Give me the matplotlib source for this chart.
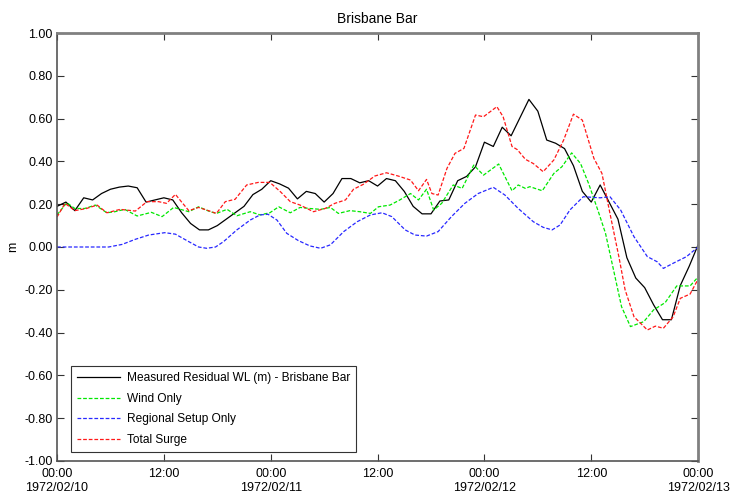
import numpy as np
import pandas as pd
import matplotlib
matplotlib.use("Agg")
import matplotlib.pyplot as plt
from matplotlib.ticker import FuncFormatter, MultipleLocator
import matplotlib.dates as mdates

plt.rcParams['font.family'] = ['Liberation Sans', 'DejaVu Sans']

start = pd.Timestamp('1972-02-10 00:00')

# Measured residual water level, hourly (m)
meas_hours = list(range(0, 73))
meas_vals = [0.19, 0.21, 0.17, 0.23, 0.22, 0.25, 0.27, 0.28, 0.285, 0.277,
             0.21, 0.22, 0.23, 0.22, 0.16, 0.11, 0.08, 0.08, 0.10, 0.13,
             0.16, 0.19, 0.245, 0.27, 0.31, 0.295, 0.275, 0.225, 0.26, 0.25,
             0.21, 0.25, 0.32, 0.32, 0.30, 0.31, 0.285, 0.32, 0.31, 0.26,
             0.19, 0.155, 0.155, 0.215, 0.22, 0.31, 0.33, 0.375, 0.49, 0.47,
             0.56, 0.52, 0.605, 0.69, 0.635, 0.50, 0.485, 0.46, 0.38, 0.26,
             0.21, 0.29, 0.21, 0.13, -0.05, -0.145, -0.19, -0.27, -0.34, -0.34,
             -0.18, -0.09, 0.01]

# Wind only
wind_hours = [0, 1.1, 2, 3.1, 4.3, 5.6, 6.5, 7.6, 9, 10.6, 11.8, 13.1, 14.8, 15.9,
              17.2, 17.9, 19.1, 20.2, 21.7, 22.8, 23.9, 24.9, 26.2, 27.3, 28.4,
              29.6, 30.7, 31.6, 32.9, 34, 35.2, 36.1, 37.4, 38.5, 39.7, 40.6,
              41.5, 42.3, 43.2, 44.5, 45.5, 46.8, 47.9, 49.6, 51.1, 51.8, 52.6,
              53.1, 54.5, 55.8, 56.7, 57.8, 58.8, 59.7, 60.8, 61.6, 62.5, 63.4,
              64.4, 65.9, 67, 68.3, 69.6, 71.1, 72]
wind_vals = [0.15, 0.207, 0.18, 0.18, 0.196, 0.16, 0.165, 0.176, 0.145, 0.162,
             0.142, 0.185, 0.165, 0.188, 0.165, 0.157, 0.176, 0.146, 0.165, 0.15,
             0.16, 0.188, 0.16, 0.185, 0.18, 0.176, 0.185, 0.157, 0.17, 0.165,
             0.157, 0.188, 0.196, 0.22, 0.25, 0.22, 0.27, 0.173, 0.204, 0.29,
             0.274, 0.383, 0.336, 0.388, 0.263, 0.29, 0.274, 0.282, 0.263, 0.344,
             0.375, 0.44, 0.39, 0.297, 0.165, 0.064, -0.107, -0.279, -0.372, -0.349,
             -0.294, -0.26, -0.182, -0.182, -0.14]

# Regional setup only
setup_hours = [0, 3, 5.8, 7.3, 8.8, 10.3, 12.1, 13.3, 14.8, 15.9, 16.8, 17.8,
               18.7, 20.2, 21.7, 22.8, 23.7, 24.7, 25.8, 27.1, 28.4, 29.6, 30.7,
               32.2, 33.7, 35.2, 36.5, 37.6, 39.1, 40.2, 41.5, 42.8, 44.3, 45.8,
               47.3, 49, 50.3, 51.8, 53.5, 54.6, 55.6, 56.5, 57.6, 59.1, 61, 62.1,
               63.3, 64.8, 66.3, 67.4, 68.1, 69.2, 70.7, 72]
setup_vals = [0.0, 0.0, 0.0, 0.012, 0.036, 0.056, 0.067, 0.06, 0.025, 0.0,
              -0.006, 0.0, 0.025, 0.08, 0.126, 0.15, 0.153, 0.126, 0.064, 0.03,
              0.005, -0.006, 0.01, 0.072, 0.118, 0.15, 0.16, 0.142, 0.08, 0.056,
              0.051, 0.072, 0.142, 0.204, 0.25, 0.279, 0.243, 0.18, 0.118, 0.092,
              0.08, 0.103, 0.173, 0.235, 0.23, 0.235, 0.173, 0.048, -0.045, -0.069,
              -0.1, -0.076, -0.045, 0.0]

# Total surge
total_hours = [0, 0.9, 2, 3.3, 4.5, 5.6, 7.1, 8.8, 10.1, 11.4, 12.3, 13.3, 14,
               14.8, 15.9, 17, 17.9, 18.9, 20, 21.3, 22.6, 23.9, 25.1, 26.2, 27.3,
               28.8, 30.1, 31.2, 32.4, 33.3, 34.4, 35.7, 37, 38.3, 39.7, 40.6,
               41.5, 42.1, 42.8, 43.8, 44.7, 45.7, 47, 47.9, 49.4, 50.1, 51.1,
               51.7, 52.6, 53.5, 54.6, 55.8, 56.9, 58, 59, 60.3, 61.2, 62.1, 63.1,
               63.8, 64.8, 66.3, 67.2, 68.1, 69.2, 70, 71.1, 72]
total_vals = [0.14, 0.204, 0.17, 0.18, 0.196, 0.16, 0.176, 0.168, 0.212, 0.212,
              0.204, 0.246, 0.21, 0.17, 0.185, 0.17, 0.157, 0.212, 0.223, 0.29,
              0.302, 0.302, 0.258, 0.212, 0.196, 0.165, 0.18, 0.204, 0.22, 0.27,
              0.293, 0.332, 0.347, 0.332, 0.313, 0.263, 0.316, 0.25, 0.243, 0.368,
              0.438, 0.461, 0.617, 0.609, 0.656, 0.609, 0.47, 0.455, 0.41, 0.39,
              0.352, 0.407, 0.50, 0.621, 0.593, 0.414, 0.344, 0.157, -0.045, -0.20,
              -0.326, -0.388, -0.37, -0.38, -0.326, -0.24, -0.22, -0.15]


def to_time(hours):
    return start + pd.to_timedelta(hours, unit='h')


fig = plt.figure(figsize=(7.31, 4.94), dpi=100)
ax = fig.add_axes([0.078, 0.067, 0.877, 0.866])

dash = (0, (3, 1.5))
ax.plot(to_time(meas_hours), meas_vals, color='black', lw=0.9,
        label='Measured Residual WL (m) - Brisbane Bar')
ax.plot(to_time(wind_hours), wind_vals, color='#00e800', lw=0.9, ls=dash,
        label='Wind Only')
ax.plot(to_time(setup_hours), setup_vals, color='#2828ff', lw=0.9, ls=dash,
        label='Regional Setup Only')
ax.plot(to_time(total_hours), total_vals, color='#ff1818', lw=0.9, ls=dash,
        label='Total Surge')

ax.set_xlim(start, start + pd.Timedelta(hours=72))
ax.set_ylim(-1.0, 1.0)
ax.yaxis.set_major_locator(MultipleLocator(0.2))
ax.yaxis.set_major_formatter(FuncFormatter(lambda v, p: f'{v:.2f}'))
ax.xaxis.set_major_locator(mdates.HourLocator(byhour=[0, 12]))


def fmt_date(x, pos):
    d = mdates.num2date(x)
    if d.hour == 0:
        return d.strftime('%H:%M\n%Y/%m/%d')
    return d.strftime('%H:%M')


ax.xaxis.set_major_formatter(FuncFormatter(fmt_date))
ax.tick_params(direction='in', top=True, right=True, length=5, labelsize=9,
               color='#333333')
ax.tick_params(axis='x', pad=5)
ax.tick_params(axis='y', pad=3)
ax.set_ylabel('m', fontsize=9)
ax.set_title('Brisbane Bar', fontsize=10, pad=7)

for side in ['top', 'right']:
    ax.spines[side].set_color('#808080')
    ax.spines[side].set_linewidth(2)
for side in ['left', 'bottom']:
    ax.spines[side].set_color('#555555')
    ax.spines[side].set_linewidth(1.2)

leg = ax.legend(loc='lower left', fontsize=8.6, fancybox=False, framealpha=1,
                edgecolor='#333333', handlelength=3.6, handletextpad=0.6,
                borderpad=0.5, labelspacing=0.72,
                bbox_to_anchor=(0.012, 0.007))
leg.get_frame().set_linewidth(0.8)

fig.savefig('out.png', dpi=100)
